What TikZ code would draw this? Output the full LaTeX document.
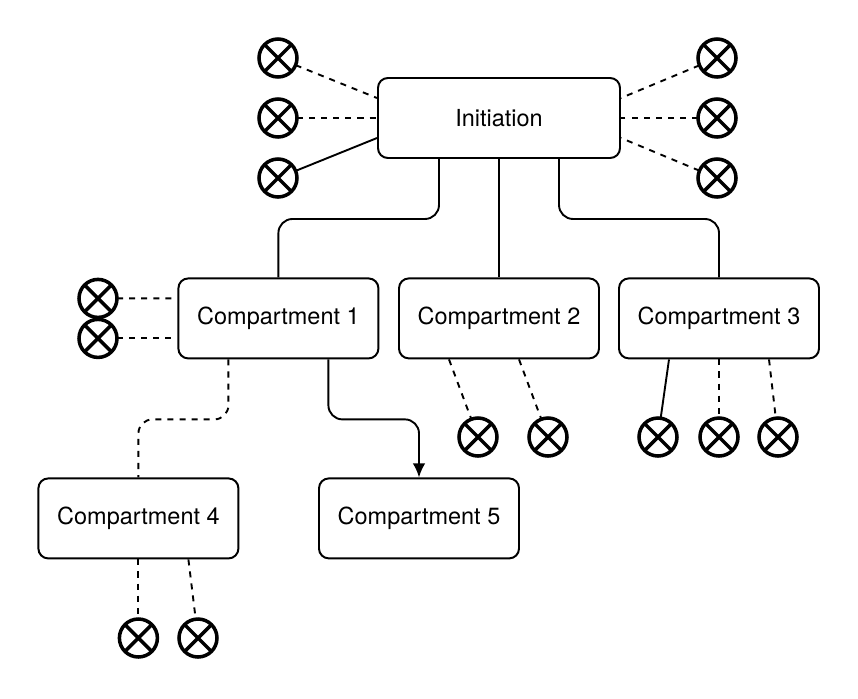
\documentclass[tikz,border=0pt]{standalone}
\usepackage{fontspec}
\setmainfont{TeX Gyre Heros}
\usetikzlibrary{arrows.meta}
\tikzset{
  box/.style={draw,rectangle,rounded corners=7pt,line width=1.4pt,minimum width=5cm,minimum height=2cm,font=\fontsize{16.7}{20}\selectfont},
  xorc/.style={draw,circle,line width=2.5pt,minimum size=0.95cm,inner sep=0pt,outer sep=0pt},
  conn/.style={line width=1.35pt},
  dconn/.style={line width=1.35pt,dash pattern=on 4.3pt off 4.3pt},
}
\newcommand{\comp}[4]{\node[box] (#1) at (#2,#3) {#4};}
\newcommand{\xor}[3]{\node[xorc] (#1) at (#2,#3) {};\draw[line width=2.5pt] (#1.north east) -- (#1.south west) (#1.north west) -- (#1.south east);}
\newcommand{\link}[2]{\draw[conn] (#1) -- (#2);}
\newcommand{\linkd}[2]{\draw[dconn] (#1) -- (#2);}
\newcommand{\branch}[3]{\draw[#3,rounded corners=10pt] (#1) -- ++(0,-1.5) -| (#2);}

\begin{document}
\begin{tikzpicture}
    \useasboundingbox (0,0) rectangle (21.45,-17.45);
    \node[box,minimum width=6.05cm] (Init) at (12.475,-2.95) {Initiation};
    \comp{C1}{6.96}{-7.96}{Compartment 1}    \comp{C2}{12.475}{-7.96}{Compartment 2}
    \comp{C3}{17.975}{-7.96}{Compartment 3}
    \comp{C4}{3.46}{-12.96}{Compartment 4}   \comp{C5}{10.475}{-12.96}{Compartment 5}

    \xor{I1}{6.95}{-1.45} \xor{I2}{6.95}{-2.95} \xor{I3}{6.95}{-4.45}
    \xor{I4}{17.925}{-1.45} \xor{I5}{17.925}{-2.95} \xor{I6}{17.925}{-4.45}
    \xor{X11}{2.45}{-7.46} \xor{X12}{2.45}{-8.46}
    \xor{X21}{11.95}{-10.925} \xor{X22}{13.7}{-10.925}
    \xor{X31}{16.45}{-10.925} \xor{X32}{17.975}{-10.925} \xor{X33}{19.45}{-10.925}
    \xor{X41}{3.46}{-15.95} \xor{X42}{4.95}{-15.95}

    \linkd{I1}{[yshift=0.5cm]Init.west} \linkd{I2}{Init.west} \link{I3}{[yshift=-0.5cm]Init.west}
    \linkd{I4}{[yshift=0.5cm]Init.east} \linkd{I5}{Init.east} \linkd{I6}{[yshift=-0.5cm]Init.east}
    \linkd{X11}{[yshift=0.5cm]C1.west} \linkd{X12}{[yshift=-0.5cm]C1.west}
    \linkd{[xshift=-1.25cm]C2.south}{X21} \linkd{[xshift=0.5cm]C2.south}{X22}
    \link{[xshift=-1.25cm]C3.south}{X31} \linkd{C3.south}{X32} \linkd{[xshift=1.25cm]C3.south}{X33}
    \linkd{C4.south}{X41} \linkd{[xshift=1.25cm]C4.south}{X42}

    \branch{[xshift=-1.5cm]Init.south}{C1.north}{conn}
    \link{Init.south}{C2.north}
    \branch{[xshift=1.5cm]Init.south}{C3.north}{conn}
    \branch{[xshift=-1.25cm]C1.south}{C4.north}{dconn}
    \branch{[xshift=1.25cm]C1.south}{C5.north}{conn,-{Latex[length=10pt,width=9pt]}}
\end{tikzpicture}
\end{document}
